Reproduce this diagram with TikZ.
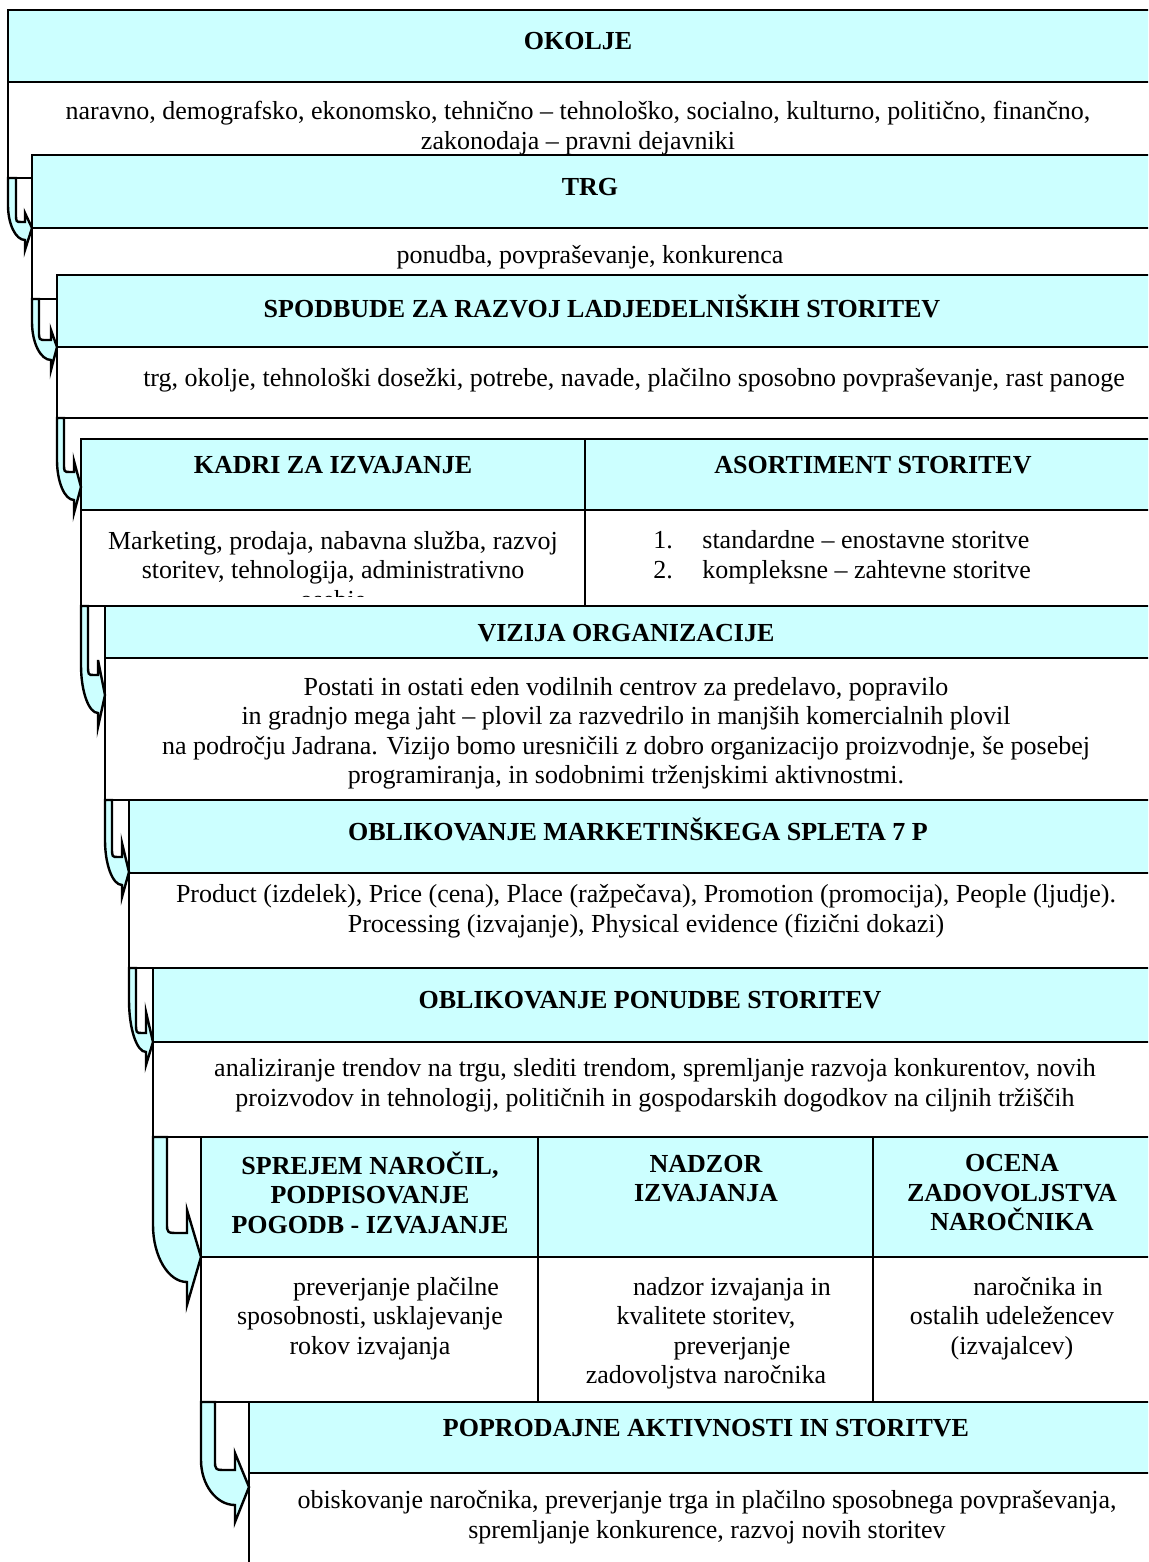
\documentclass[tikz,border=0pt]{standalone}
\usepackage{fontspec}
\setmainfont{Liberation Serif}
\definecolor{cyanfill}{HTML}{CCFFFF}
\newcommand{\fsz}{\fontsize{13}{14.8}\selectfont}
\tikzset{
  ln/.style={line width=1.2pt, line cap=rect},
  txt/.style={inner sep=0pt, align=center, font=\fsz, execute at begin node=\strut, execute at end node=\strut},
  btxt/.style={txt, font=\fsz\bfseries},
  bentarr/.style={draw, fill=cyanfill, line width=1.2pt, line join=miter}
}
\begin{document}
\begin{tikzpicture}[x=0.5pt,y=-0.5pt]
\useasboundingbox (0,0) rectangle (1148,1562);
\clip (0,0) rectangle (1148,1562);
% header fills
\fill[cyanfill] (8,10) rectangle (1160,82);
\fill[cyanfill] (32,155) rectangle (1160,228);
\fill[cyanfill] (57,275) rectangle (1160,347);
\fill[cyanfill] (81,439) rectangle (1160,510);
\fill[cyanfill] (105,606) rectangle (1160,658);
\fill[cyanfill] (129,800) rectangle (1160,873);
\fill[cyanfill] (153,968) rectangle (1160,1042);
\fill[cyanfill] (201,1137) rectangle (1160,1257);
\fill[cyanfill] (249,1402) rectangle (1160,1473);
% box lines
\draw[ln] (1160,10) -- (8,10) -- (8,178) -- (32,178);
\draw[ln] (8,82) -- (1160,82);
\draw[ln] (1160,155) -- (32,155) -- (32,299) -- (57,299);
\draw[ln] (32,228) -- (1160,228);
\draw[ln] (1160,275) -- (57,275) -- (57,418) -- (1160,418);
\draw[ln] (57,347) -- (1160,347);
\draw[ln] (1160,439) -- (81,439) -- (81,606) -- (1160,606);
\draw[ln] (81,510) -- (1160,510);
\draw[ln] (585,439) -- (585,606);
\draw[ln] (105,606) -- (105,800) -- (1160,800);
\draw[ln] (105,658) -- (1160,658);
\draw[ln] (129,800) -- (129,968) -- (1160,968);
\draw[ln] (129,873) -- (1160,873);
\draw[ln] (153,968) -- (153,1137) -- (1160,1137);
\draw[ln] (153,1042) -- (1160,1042);
\draw[ln] (201,1137) -- (201,1402) -- (1160,1402);
\draw[ln] (201,1257) -- (1160,1257);
\draw[ln] (538,1137) -- (538,1402);
\draw[ln] (873,1137) -- (873,1402);
\draw[ln] (249,1402) -- (249,1570);
\draw[ln] (249,1473) -- (1160,1473);
% bent arrows
\foreach \xl/\xi/\ya/\yi/\yh/\xb/\yba/\xt/\ytip/\ybb/\ys/\yo in {
 8/16/178/213/222/25/213/32/228/250/240/205,
 32/39/299/331/340/51/330/57/347/370/360/322,
 57/64/418/463/472/74/461/81/487/513/500/460,
 81/88/606/664/675/98/660/105/695/727/713/665,
 105/112/800/847/857/122/843/129/872/897/885/840,
 129/136/968/1022/1033/146/1012/153/1042/1065/1052/1000,
 153/167/1137/1223/1233/187/1210/201/1257/1305/1282/1225,
 201/215/1402/1460/1470/235/1453/249/1487/1522/1505/1460}{
 \draw[bentarr] (\xl,\ya) -- (\xi,\ya) -- (\xi,\yi) .. controls (\xi,\yh) .. ({\xi+0.6*(\xb-\xi)},\yh) -- (\xb,\yh) -- (\xb,\yba) -- (\xt,\ytip) -- (\xb,\ybb) -- (\xb,\ys) .. controls ({\xl+0.45*(\xb-\xl)},\ys) and (\xl,{\ys-0.45*(\ys-\yo)}) .. (\xl,\yo) -- cycle;
}
% texts
\node[btxt] (okolje) at (578,44) {OKOLJE};
\node[txt] (okoljeb) at (578,130) {naravno, demografsko, ekonomsko, tehnično – tehnološko, socialno, kulturno, politično, finančno,\\zakonodaja – pravni dejavniki};
\node[btxt] (trg) at (590,190) {TRG};
\node[txt] (trgb) at (590,258) {ponudba, povpraševanje, konkurenca};
\node[btxt] (spod) at (602,311) {SPODBUDE ZA RAZVOJ LADJEDELNIŠKIH STORITEV};
\node[txt] (spodb) at (634,381) {trg, okolje, tehnološki dosežki, potrebe, navade, plačilno sposobno povpraševanje, rast panoge};
\node[btxt] (kadri) at (333,468) {KADRI ZA IZVAJANJE};
\node[btxt] (asort) at (873,468) {ASORTIMENT STORITEV};
\begin{scope}
\clip (81,510) rectangle (585,596);
\node[txt] (kadrib) at (333,574) {Marketing, prodaja, nabavna služba, razvoj\\storitev, tehnologija, administrativno\\osebje};
\end{scope}
\node[txt, align=left, anchor=west] (asortb) at (653,559) {\makebox[24.5pt][l]{1.}standardne – enostavne storitve\\\makebox[24.5pt][l]{2.}kompleksne – zahtevne storitve};
\node[btxt] (vizija) at (626,636) {VIZIJA ORGANIZACIJE};
\node[txt] (vizijab) at (626,735) {Postati in ostati eden vodilnih centrov za predelavo, popravilo\\in gradnjo mega jaht – plovil za razvedrilo in manjših komercialnih plovil\\na področju Jadrana. Vizijo bomo uresničili z dobro organizacijo proizvodnje, še posebej\\programiranja, in sodobnimi trženjskimi aktivnostmi.};
\node[btxt] (splet) at (638,834) {OBLIKOVANJE MARKETINŠKEGA SPLETA 7 P};
\node[txt] (spletb) at (646,913) {Product (izdelek), Price (cena), Place (ražpečava), Promotion (promocija), People (ljudje).\\Processing (izvajanje), Physical evidence (fizični dokazi)};
\node[btxt] (ponudba) at (650,1003) {OBLIKOVANJE PONUDBE STORITEV};
\node[txt] (ponudbab) at (655,1087) {analiziranje trendov na trgu, slediti trendom, spremljanje razvoja konkurentov, novih\\proizvodov in tehnologij, političnih in gospodarskih dogodkov na ciljnih tržiščih};
\node[btxt] (sprejem) at (370,1197) {SPREJEM NAROČIL,\\PODPISOVANJE\\POGODB - IZVAJANJE};
\node[btxt] (nadzor) at (706,1183) {NADZOR\\IZVAJANJA};
\node[btxt] (ocena) at (1012,1197) {OCENA\\ZADOVOLJSTVA\\NAROČNIKA};
\node[txt] (sprejemb) at (370,1320) {\hspace*{2em}preverjanje plačilne\\sposobnosti, usklajevanje\\rokov izvajanja};
\node[txt] (nadzorb) at (706,1335) {\hspace*{2em}nadzor izvajanja in\\kvalitete storitev,\\\hspace*{2em}preverjanje\\zadovoljstva naročnika};
\node[txt] (ocenab) at (1012,1320) {\hspace*{2em}naročnika in\\ostalih udeležencev\\(izvajalcev)};
\node[btxt] (poprod) at (706,1431) {POPRODAJNE AKTIVNOSTI IN STORITVE};
\node[txt] (poprodb) at (707,1519) {obiskovanje naročnika, preverjanje trga in plačilno sposobnega povpraševanja,\\spremljanje konkurence, razvoj novih storitev};
\end{tikzpicture}
\end{document}
